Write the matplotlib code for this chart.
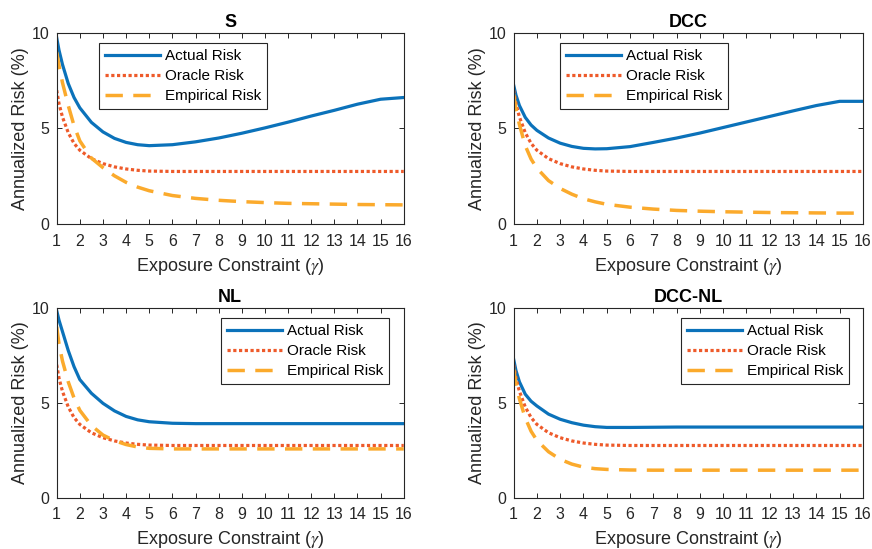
import numpy as np
import matplotlib
matplotlib.use('Agg')
import matplotlib.pyplot as plt

'''SETTINGS'''
plt.rcParams['font.family'] = ['Liberation Sans', 'DejaVu Sans']
plt.rcParams['mathtext.fontset'] = 'stix'

# exposure constraint grid (gamma)
gamma = [1, 1.1, 1.25, 1.5, 1.75, 2, 2.5, 3, 3.5, 4, 4.5, 5, 6, 7, 8, 9, 10, 11, 12, 13, 14, 15, 16]

# oracle risk is the same in every panel
oracle_risk = [7.0, 6.3, 5.6, 4.78, 4.22, 3.86, 3.42, 3.16, 2.99, 2.88, 2.81, 2.77,
               2.75, 2.75, 2.75, 2.75, 2.75, 2.75, 2.75, 2.75, 2.75, 2.75, 2.75]

# S
s_actual = [9.75, 9.1, 8.35, 7.35, 6.62, 6.08, 5.32, 4.82, 4.48, 4.27, 4.15, 4.1,
            4.15, 4.3, 4.5, 4.75, 5.03, 5.33, 5.65, 5.95, 6.27, 6.53, 6.62]
s_empirical = [9.0, 8.3, 7.4, 6.2, 5.15, 4.35, 3.45, 2.95, 2.52, 2.18, 1.93, 1.74,
               1.49, 1.34, 1.24, 1.17, 1.12, 1.08, 1.06, 1.04, 1.02, 1.01, 1.0]

# DCC
dcc_actual = [7.28, 6.75, 6.2, 5.58, 5.18, 4.9, 4.5, 4.23, 4.06, 3.96, 3.93, 3.94,
              4.05, 4.27, 4.5, 4.76, 5.05, 5.34, 5.63, 5.92, 6.2, 6.42, 6.42]
dcc_empirical = [6.8, 6.0, 5.2, 4.1, 3.4, 2.92, 2.27, 1.86, 1.56, 1.32, 1.16, 1.03,
                 0.88, 0.78, 0.71, 0.67, 0.64, 0.62, 0.6, 0.59, 0.58, 0.57, 0.57]

# NL
nl_actual = [9.85, 9.35, 8.75, 7.75, 6.9, 6.22, 5.5, 4.97, 4.57, 4.28, 4.1, 4.0,
             3.92, 3.9, 3.9, 3.9, 3.9, 3.9, 3.9, 3.9, 3.9, 3.9, 3.9]
nl_empirical = [9.0, 8.1, 7.2, 6.1, 5.25, 4.6, 3.8, 3.3, 3.0, 2.8, 2.67, 2.6,
                2.57, 2.57, 2.57, 2.57, 2.57, 2.57, 2.57, 2.57, 2.57, 2.57, 2.57]

# DCC-NL
dccnl_actual = [7.3, 6.7, 6.1, 5.45, 5.08, 4.83, 4.4, 4.13, 3.95, 3.82, 3.74, 3.7,
                3.7, 3.71, 3.72, 3.72, 3.72, 3.72, 3.72, 3.72, 3.72, 3.72, 3.72]
dccnl_empirical = [6.8, 6.0, 5.2, 4.2, 3.5, 3.02, 2.42, 2.02, 1.77, 1.61, 1.53, 1.49,
                   1.46, 1.45, 1.45, 1.45, 1.45, 1.45, 1.45, 1.45, 1.45, 1.45, 1.45]

titles = ['S', 'DCC', 'NL', 'DCC-NL']
actuals = [s_actual, dcc_actual, nl_actual, dccnl_actual]
empiricals = [s_empirical, dcc_empirical, nl_empirical, dccnl_empirical]
x_ticks = list(range(1, 17))
y_ticks = [0, 5, 10]

# axes rectangles [left, bottom, width, height] in figure fractions
rects = [[0.065, 0.592, 0.398, 0.348],
         [0.589, 0.592, 0.4006, 0.348],
         [0.065, 0.0934, 0.398, 0.346],
         [0.589, 0.0934, 0.4006, 0.346]]
# legend upper-left anchors (axes fractions)
leg_anchor = [(0.122, 0.948), (0.1326, 0.948), (0.473, 0.946), (0.479, 0.946)]

c_actual = '#0B72BA'
c_oracle = '#EE5A2A'
c_empirical = '#FBAA2C'
grey = '#262626'

'''PLOTTING'''
fig = plt.figure(figsize=(8.72, 5.49), dpi=100, facecolor='w')

for i in range(4):
    ax = fig.add_axes(rects[i])
    ax.plot(gamma, actuals[i], color=c_actual, lw=2.3, label='Actual Risk')
    ax.plot(gamma, oracle_risk, color=c_oracle, lw=2.3, linestyle=(0, (1, 0.8)),
            label='Oracle Risk')
    ax.plot(gamma, empiricals[i], color=c_empirical, lw=2.5, linestyle=(0, (5, 3)),
            label='Empirical Risk')

    ax.set_xlim(1, 16)
    ax.set_ylim(0, 10)
    ax.set_xticks(x_ticks)
    ax.set_yticks(y_ticks)
    ax.tick_params(direction='in', length=3.5, width=0.7, top=True, right=True,
                   labelsize=11.5, colors=grey)
    ax.tick_params(axis='x', pad=7)
    ax.tick_params(axis='y', pad=5)
    for sp in ax.spines.values():
        sp.set_color(grey)
        sp.set_linewidth(0.8)

    ax.set_title(titles[i], fontsize=13, fontweight='bold', pad=4)
    ax.set_xlabel(r'Exposure Constraint ($\gamma$)', fontsize=13, color=grey, labelpad=5)
    ax.set_ylabel('Annualized Risk (%)', fontsize=13, color=grey, labelpad=2)

    leg = ax.legend(loc='upper left', bbox_to_anchor=leg_anchor[i], borderaxespad=0,
                    fontsize=11, handlelength=3.6, handletextpad=0.3,
                    labelspacing=0.4, fancybox=False, framealpha=1,
                    borderpad=0.4)
    leg.get_frame().set_edgecolor(grey)
    leg.get_frame().set_linewidth(0.8)

fig.savefig('out.png', dpi=100)
plt.close()
